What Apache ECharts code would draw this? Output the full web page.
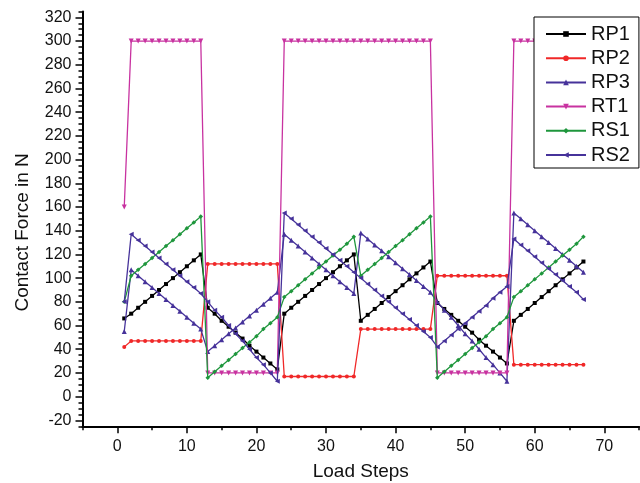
<!DOCTYPE html>
<html>
<head>
<meta charset="utf-8">
<script src="https://cdn.jsdelivr.net/npm/echarts@6/dist/echarts.min.js"></script>
<style>
  html, body { margin: 0; padding: 0; background: #fff; }
  #chart { width: 640px; height: 483px; }
</style>
</head>
<body>
<div id="chart"></div>
<script>
// Load steps (x values)
const steps = [1,2,3,4,5,6,7,8,9,10,11,12,13,14,15,16,17,18,19,20,21,22,23,24,25,26,27,28,29,30,31,32,33,34,35,36,37,38,39,40,41,42,43,44,45,46,47,48,49,50,51,52,53,54,55,56,57,58,59,60,61,62,63,64,65,66,67];

const seriesNames = ['RP1', 'RP2', 'RP3', 'RT1', 'RS1', 'RS2'];

const rp1 = [66,
  70,75,80,85,90,95,100,105,110,115,120,
  75,70,64,59,54,49,43,38,33,28,23,
  70,75,80,85,90,95,100,105,110,115,120,
  64,69,74,79,84,89,94,99,104,109,114,
  79,74,69,64,59,54,48,43,38,33,28,
  64,69,74,79,84,89,94,99,104,109,114];

const rp2 = [42,
  47,47,47,47,47,47,47,47,47,47,47,
  112,112,112,112,112,112,112,112,112,112,112,
  17,17,17,17,17,17,17,17,17,17,17,
  57,57,57,57,57,57,57,57,57,57,57,
  102,102,102,102,102,102,102,102,102,102,102,
  27,27,27,27,27,27,27,27,27,27,27];

const rp3 = [55,
  107,102,97,92,87,82,77,72,67,62,57,
  38,43,48,53,58,63,68,73,78,83,88,
  137,132,127,122,117,112,107,102,97,92,87,
  138,133,128,123,118,113,108,103,98,93,88,
  80,73,67,60,53,47,40,33,27,20,13,
  155,150,145,140,135,130,125,120,115,110,105];

const rt1 = [160,
  300,300,300,300,300,300,300,300,300,300,300,
  20,20,20,20,20,20,20,20,20,20,20,
  300,300,300,300,300,300,300,300,300,300,300,
  300,300,300,300,300,300,300,300,300,300,300,
  20,20,20,20,20,20,20,20,20,20,20,
  300,300,300,300,300,300,300,300,300,300,300];

const rs1 = [80,
  102,107,112,117,122,127,132,137,142,147,152,
  16,21,26,31,36,41,46,51,57,62,67,
  84,89,94,99,104,109,114,119,124,129,135,
  102,107,112,117,122,127,132,137,142,147,152,
  16,21,26,31,36,41,46,51,57,62,67,
  84,89,94,99,104,109,114,119,124,129,135];

const rs2 = [80,
  137,132,127,122,117,112,107,102,97,92,87,
  80,73,67,60,53,47,40,33,27,20,13,
  155,150,145,140,135,130,125,120,115,110,105,
  100,95,90,85,80,75,70,65,60,55,50,
  42,47,52,57,62,67,72,77,83,88,93,
  133,128,123,118,113,108,103,98,93,88,82];

const yTicks = [-20,0,20,40,60,80,100,120,140,160,180,200,220,240,260,280,300,320];
const xTicks = [0,10,20,30,40,50,60,70];

const FONT = "'Liberation Sans', Arial, sans-serif";

const styles = [
  { color: '#000000', symbol: 'rect', size: 4, rotate: 0 },
  { color: '#f02828', symbol: 'circle', size: 4, rotate: 0 },
  { color: '#46329a', symbol: 'triangle', size: 5, rotate: 0 },
  { color: '#c832a0', symbol: 'triangle', size: 5, rotate: 180 },
  { color: '#1e963c', symbol: 'diamond', size: 4.5, rotate: 0 },
  { color: '#46329a', symbol: 'triangle', size: 5, rotate: 90 }
];
const allData = [rp1, rp2, rp3, rt1, rs1, rs2];

const series = seriesNames.map((name, k) => ({
  name: name,
  type: 'line',
  xAxisIndex: 0,
  yAxisIndex: 0,
  data: steps.map((s, i) => [s, allData[k][i]]),
  symbol: styles[k].symbol,
  symbolSize: styles[k].size,
  symbolRotate: styles[k].rotate,
  showSymbol: true,
  lineStyle: { color: styles[k].color, width: 1.3 },
  itemStyle: { color: styles[k].color },
  emphasis: { disabled: true },
  animation: false,
  z: 2 + k
}));

const chart = echarts.init(document.getElementById('chart'), null, { renderer: 'canvas' });
chart.setOption({
  backgroundColor: '#ffffff',
  animation: false,
  grid: { left: 82.5, right: 0.9, top: 11.4, bottom: 56.7, containLabel: false, outerBoundsMode: 'none' },
  xAxis: [
    {
      type: 'value', min: -5, max: 75, position: 'bottom',
      name: 'Load Steps', nameLocation: 'middle', nameGap: 36,
      nameTextStyle: { fontFamily: FONT, fontSize: 19, color: '#111' },
      axisLine: { show: true, onZero: false, lineStyle: { color: '#000', width: 2 } },
      axisTick: { show: true, inside: false, length: 7, customValues: xTicks, lineStyle: { color: '#000', width: 1.5 } },
      axisLabel: { show: true, customValues: xTicks, margin: 12, fontFamily: FONT, fontSize: 16, color: '#111' },
      splitLine: { show: false }
    },
    {
      type: 'value', min: -5, max: 75, interval: 5, position: 'bottom', offset: 0,
      axisLine: { show: false, onZero: false },
      axisTick: { show: true, inside: false, length: 4, lineStyle: { color: '#000', width: 1.5 } },
      axisLabel: { show: false },
      splitLine: { show: false }
    }
  ],
  yAxis: [
    {
      type: 'value', min: -25, max: 325, position: 'left',
      name: 'Contact Force in N', nameLocation: 'middle', nameGap: 50,
      nameTextStyle: { fontFamily: FONT, fontSize: 19, color: '#111', padding: [0, 27, 0, 0] },
      axisLine: { show: true, onZero: false, lineStyle: { color: '#000', width: 2 } },
      axisTick: { show: true, inside: false, length: 7, customValues: yTicks, lineStyle: { color: '#000', width: 1.5 } },
      axisLabel: { show: true, customValues: yTicks, margin: 11, fontFamily: FONT, fontSize: 16, color: '#111' },
      splitLine: { show: false }
    },
    {
      type: 'value', min: -25, max: 325, interval: 5, position: 'left', offset: 0,
      axisLine: { show: false, onZero: false },
      axisTick: { show: true, inside: false, length: 4, lineStyle: { color: '#000', width: 1.5 } },
      axisLabel: { show: false },
      splitLine: { show: false }
    }
  ],
  legend: {
    data: seriesNames,
    orient: 'vertical',
    left: 534,
    top: 17,
    padding: [7, 9, 3, 11],
    itemWidth: 40,
    itemHeight: 7,
    itemGap: 4.2,
    backgroundColor: '#ffffff',
    borderColor: '#000',
    borderWidth: 1,
    borderRadius: 0,
    textStyle: { fontFamily: FONT, fontSize: 20, color: '#111', lineHeight: 20 },
    z: 20
  },
  series: series
});
</script>
</body>
</html>
